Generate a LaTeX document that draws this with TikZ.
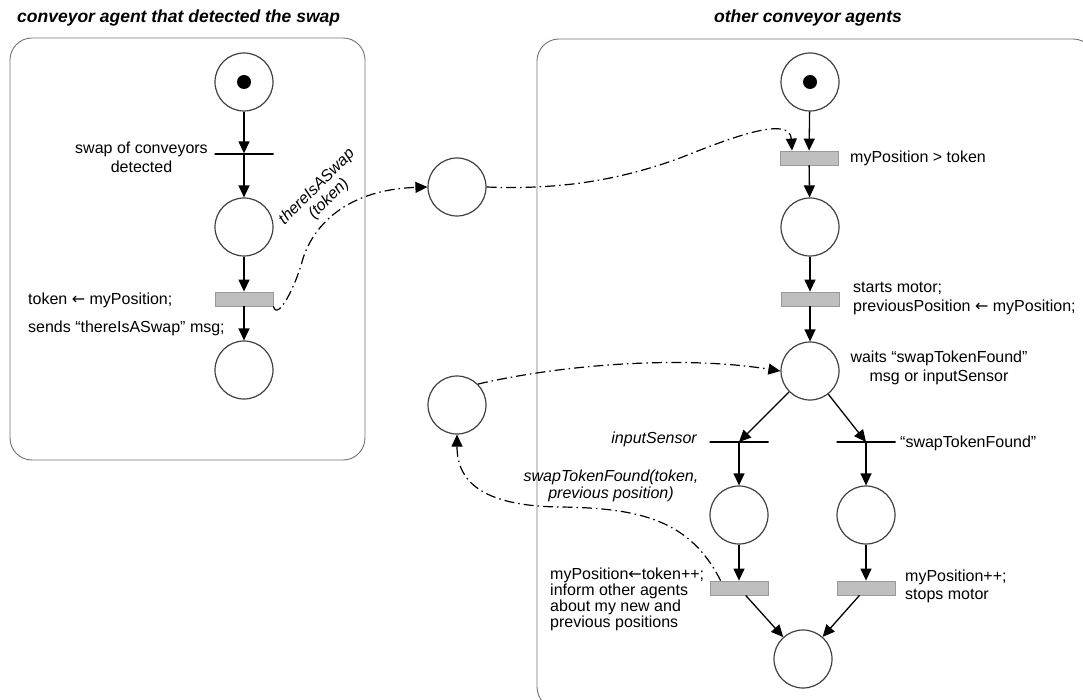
\documentclass[tikz,border=0pt]{standalone}
\usepackage{fontspec}
\setmainfont{Liberation Sans}
\newfontfamily\arrowfont{DejaVu Sans}
\newcommand\getsarrow{{\arrowfont ←}}
\usetikzlibrary{arrows.meta,calc}

\begin{document}
\begin{tikzpicture}[x=1pt,y=-1pt,
  place/.style={circle,draw=black!75,line width=1.2pt,minimum size=58pt,inner sep=0pt},
  bar/.style={draw=black,line width=1.3pt,minimum width=59pt,minimum height=0pt,inner sep=0pt},
  tbox/.style={rectangle,draw=black!40,fill=black!25,line width=0.8pt,minimum width=58pt,minimum height=14pt,inner sep=0pt},
  arc/.style={-{Triangle[length=12pt,width=11pt]},line width=1.3pt},
  msg/.style={arc,line width=1.2pt,dash pattern=on 10pt off 4pt on 1.5pt off 4pt},
  lbl/.style={font=\fontsize{16}{19}\selectfont,inner sep=0pt},
  ilbl/.style={font=\fontsize{16}{17}\selectfont\itshape,inner sep=0pt},
  panel/.style={draw=black!55,line width=0.9pt,rounded corners=22pt},
  title/.style={font=\fontsize{17.5}{21}\selectfont\bfseries\itshape,inner sep=0pt}]

\useasboundingbox (0,0) rectangle (1083,700);
\clip (0,0) rectangle (1083,700);

% agent panels
\draw[panel] (10,38) rectangle (365,460);
\draw[panel] (537,39) rectangle (1095,709);
\node[title,anchor=west] (ttl1) at (17,18) {conveyor agent that detected the swap};
\node[title] (ttl2) at (808,18) {other conveyor agents};

% net of the detecting agent
\node[place] (p1) at (244,82) {};
\fill (p1.center) circle (7pt);
\node[bar]   (t1) at (244,154) {};
\node[place] (p2) at (244,227) {};
\node[tbox]  (t2) at (244,299) {};
\node[place] (p3) at (244,370) {};

\draw[arc] (p1) -- (t1);
\draw[arc] (t1) -- (p2);
\draw[arc] (p2) -- (t2);
\draw[arc] (t2) -- (p3);

\node[lbl,align=center] (l1) at (141.5,157) {swap of conveyors\\detected};
\node[lbl,align=left,anchor=west] (l2) at (28,314.5) {token \getsarrow{} myPosition;\\[9pt]sends “thereIsASwap” msg;};

% message places
\node[place] (m1) at (457,187) {};
\node[place] (m2) at (457,405) {};

% net of the other agents
\node[place] (p4) at (810,82) {};
\fill (p4.center) circle (7pt);
\node[tbox]  (t3) at (809,158) {};
\node[place] (p5) at (810,227) {};
\node[tbox]  (t4) at (810,299) {};
\node[place] (p6) at (810,371) {};
\node[bar]   (t5) at (739,442) {};
\node[bar]   (t6) at (866,442) {};
\node[place] (p7) at (739,515) {};
\node[place] (p8) at (866,515) {};
\node[tbox]  (t7) at (739,588) {};
\node[tbox]  (t8) at (866,588) {};
\node[place] (p9) at (803,659) {};

\draw[arc] (p4) -- (t3);
\draw[arc] (t3) -- (p5);
\draw[arc] (p5) -- (t4);
\draw[arc] (t4) -- (p6);
\draw[arc] (p6) -- (t5.center);
\draw[arc] (p6) -- (t6.center);
\draw[arc] (t5) -- (p7);
\draw[arc] (t6) -- (p8);
\draw[arc] (p7) -- (t7);
\draw[arc] (p8) -- (t8);
\draw[arc] (t7) -- (p9);
\draw[arc] (t8) -- (p9);

\node[lbl,anchor=west] (l3) at (850,158) {myPosition > token};
\node[lbl,align=left,anchor=west] (l4) at (853,298) {starts motor;\\previousPosition \getsarrow{} myPosition;};
\node[lbl,align=center] (l5) at (939,368) {waits “swapTokenFound”\\msg or inputSensor};
\node[ilbl,anchor=east] (l6) at (697,439) {inputSensor};
\node[lbl,anchor=west] (l7) at (900,443) {“swapTokenFound”};
\node[lbl,align=left,anchor=west,font=\fontsize{16}{16}\selectfont] (l8) at (550,599) {myPosition\getsarrow token++;\\inform other agents\\about my new and\\previous positions};
\node[lbl,align=left,anchor=west,font=\fontsize{16}{18}\selectfont] (l9) at (905,586) {myPosition++;\\stops motor};

% messages between agents
\draw[msg] (t2.south east) .. controls (278,322) and (296,284) .. (302,262)
  .. controls (310,232) and (340,190) .. (m1.west);
\node[ilbl,align=center,rotate=45,font=\fontsize{16}{17}\selectfont\itshape] (l10) at (323,193) {thereIsASwap\\(token)};

\draw[msg] (m1.east) .. controls (560,190) and (620,180) .. (680,158)
  .. controls (730,138) and (790,115) .. ($(t3.north)+(-17,0)$);

\draw[msg] (m2.45) .. controls (560,365) and (680,355) .. (p6.west);

\draw[msg] ($(t7.north west)+(11,0)$) .. controls (690,520) and (640,508) .. (560,507)
  .. controls (480,506) and (457,480) .. (m2.south);
\node[ilbl,align=center] (l11) at (611,486) {swapTokenFound(token,\\previous position)};

\end{tikzpicture}
\end{document}
